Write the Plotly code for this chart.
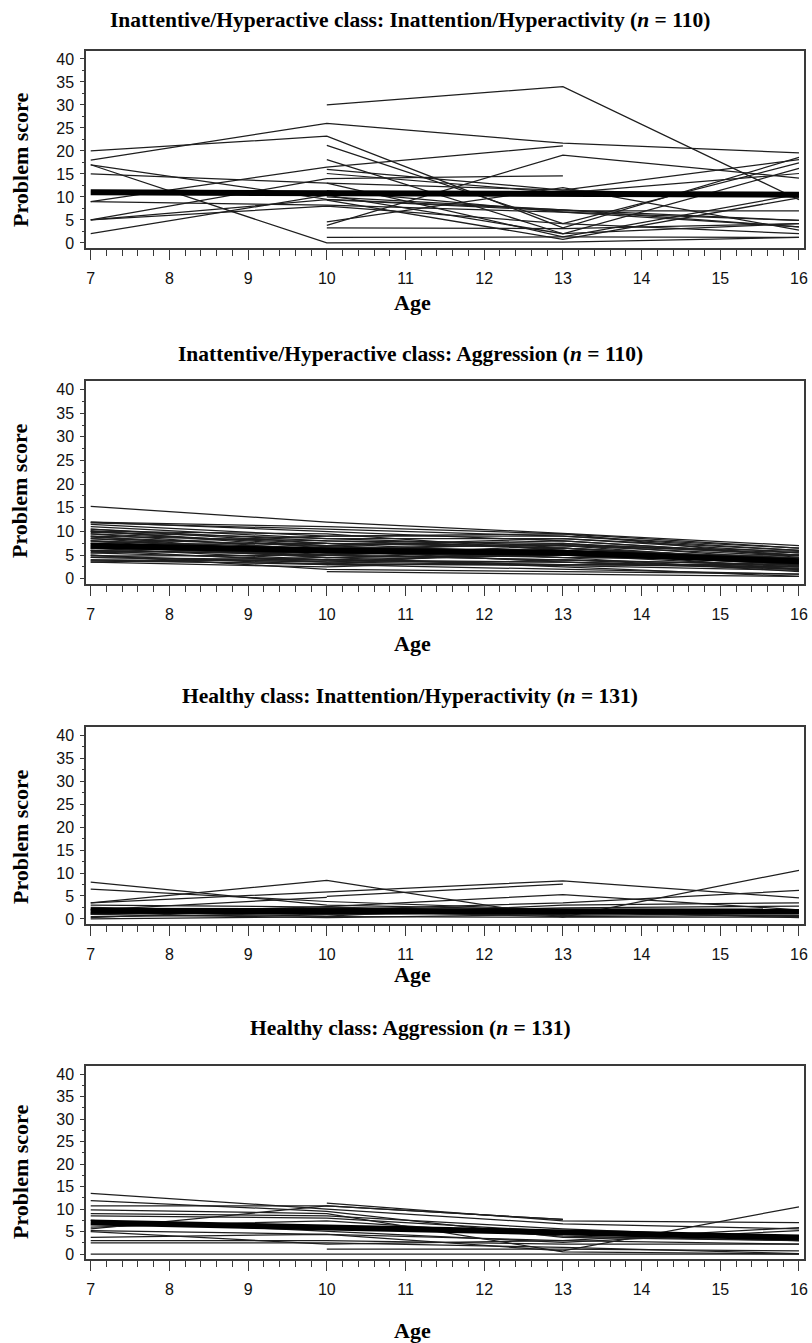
import plotly.graph_objects as go

# ---------------- data ----------------
ages = [7, 10, 13, 16]
x_ticks = [7, 8, 9, 10, 11, 12, 13, 14, 15, 16]
y_ticks = [0, 5, 10, 15, 20, 25, 30, 35, 40]

titles = [
    "Inattentive/Hyperactive class: Inattention/Hyperactivity (<i>n</i> = 110)",
    "Inattentive/Hyperactive class: Aggression (<i>n</i> = 110)",
    "Healthy class: Inattention/Hyperactivity (<i>n</i> = 131)",
    "Healthy class: Aggression (<i>n</i> = 131)",
]

# individual trajectories (scores at ages 7, 10, 13, 16; None = missing)
ih_inatt = [
    [20, 23.2, 3.3, 18.6],
    [18, 26, 21.7, 19.6],
    [None, 30, 34, 9.4],
    [17, 0, 0.2, 1.2],
    [17, 9.5, 7.2, 4.9],
    [15, 13, 11.5, 10],
    [9, 16.5, 21.1, None],
    [9, 8.2, 6.7, 3.5],
    [5, 14, 14.6, None],
    [5, 9.4, 7, 7],
    [5, 8, 4.2, 2],
    [2, 10.4, 2, 16.2],
    [None, 21.2, 4.2, 17.4],
    [None, 18.1, 2, 4.2],
    [None, 15.1, 10.9, 15.1],
    [None, 13, 1.3, 10.6],
    [None, 3.8, 19.1, 14.1],
    [None, 4.6, 12, 2.8],
    [None, 1.2, 1.3, 1.2],
    [None, 3.3, 3.1, 4.2],
    [None, 11.4, 6.7, 4.9],
    [None, 10, 7.2, 3.5],
    [None, 16, 11.5, 18.1],
    [None, 9.3, 0.8, 9.8],
]
ih_inatt_mean = [11, 10.8, 10.8, 10.5]

ih_aggr = [
    [15.3, 12, 9.6, 7],
    [12, 11, 9.5, 6.5],
    [12, 10, 8, 5],
    [11.5, 9, 9.5, 4.5],
    [10.5, 8, 7.5, 4],
    [10, 9.5, 6, 3.5],
    [10, 7, 8, 5],
    [9.5, 6, 5.5, 3],
    [9, 8, 6.5, 4],
    [9, 5, 7, 3.5],
    [8.5, 7, 5, 2.5],
    [8, 6.5, 4.5, 4.5],
    [8, 4.5, 6, 3],
    [7.5, 6, 3.5, 2],
    [6.5, 4, 5, 5],
    [6, 5, 4, 3],
    [6, 3.5, 3, 2.5],
    [5.5, 6.5, 4.5, 1.5],
    [5, 3, 6.5, 3.5],
    [5, 2, 1.5, 1],
    [4.5, 4, 3, 3],
    [4, 3, 2, 1],
    [3.5, 2.5, 4, 2],
    [3.5, 4.5, 2.5, 0.5],
    [None, 1.5, 1, 0.5],
    [None, 3, 3, 3],
    [None, 7, 8.5, 6],
    [7.5, 9, 9, 6.5],
    [11, 8.5, 7, 5.5],
    [10.5, 7.5, 6.5, 4],
    [9.5, 7.5, 5, 4.5],
    [8.5, 5.5, 6, 2],
    [7, 4.5, 5, 3.5],
    [6.5, 5.5, 4.5, 4],
    [5.5, 4, 3.5, 2.5],
    [4.5, 3.5, 5.5, 3],
    [8, 6, 7.5, 5],
    [6, 6.5, 6, 4.5],
    [11.8, 10.5, 9, 6],
    [9.8, 8.5, 8.5, 5.5],
    [7.2, 7.5, 7, 4.8],
    [6.8, 5, 6.5, 4.2],
    [5.8, 5.5, 5, 3.8],
    [4.8, 5, 4, 2.8],
    [4, 3.8, 3.5, 2.2],
    [3.8, 3.2, 2.8, 1.8],
    [8.8, 6.8, 5.8, 3.2],
    [10.2, 6.5, 7.2, 5.8],
]
ih_aggr_mean = [7, 6, 5.5, 3.7]

h_inatt = [
    [3.5, 8.4, 0.4, 10.6],
    [8, 3, 2, 2],
    [6.5, 3.8, 2, 1.5],
    [3.5, 5.9, 8.3, 4.6],
    [None, 4.9, 7.6, None],
    [2, 4.7, None, None],
    [1, 2.7, 5.3, 2],
    [2, 2, 3.5, 6.2],
    [0.5, 1, 1.3, 2],
    [0, 0.5, 0.4, 0.4],
    [1.5, 0.6, 3, 3.5],
    [2.5, 1.5, 0.8, 1.2],
    [0.3, 2.4, 1.5, 0.5],
    [1.2, 1.2, 2.4, 2.8],
    [3, 2.6, 1.6, 0.3],
    [1, 0.3, 1, 1.8],
    [2.2, 1.8, 0.5, 0.8],
]
h_inatt_mean = [1.8, 1.7, 1.6, 1.6]

h_aggr = [
    [13.5, 10, 6.7, 5.6],
    [11.9, 9.5, 3.7, 3],
    [10.7, 10.7, 7.7, None],
    [None, 11.3, 7.4, 7],
    [9.8, 9, 0.5, 0],
    [5.6, 10.7, 7.7, None],
    [8.5, 8, 5, 3],
    [5.2, 4.4, 3, 2.2],
    [3.7, 4.4, 0.7, 10.5],
    [3, 3, 2.2, 2.2],
    [0, 0, 0, 0],
    [None, 1.1, 1.1, 0.7],
    [2.5, 2.5, 1.5, 0.1],
    [5, 2.2, 3, 5.9],
    [9, 8.5, 5.6, 3.5],
    [6, 7.4, 4, 3],
    [7.5, 5, 2.6, 5.2],
]
h_aggr_mean = [7, 5.9, 4.8, 3.7]

panels = [
    (ih_inatt, ih_inatt_mean),
    (ih_aggr, ih_aggr_mean),
    (h_inatt, h_inatt_mean),
    (h_aggr, h_aggr_mean),
]

# ---------------- layout geometry (pixels from top-left) ----------------
W, H = 812, 1343
frames = [(50.7, 248), (381, 584), (727, 924), (1066, 1259)]
title_y = [19, 353, 695, 1027]
age_y = [302, 643, 975, 1330]
ylab_y = [160, 491, 837, 1172]
x_left, x_right = 86, 803.7


def px(x):
    return x / W


def py(y):
    return 1 - y / H


LINE = "#1e1e1e"
AXIS = "#3a3a3a"
SERIF = "Liberation Serif, Times New Roman, serif"
SANS = "Liberation Sans, Arial, sans-serif"

fig = go.Figure()
annotations = []
for i, (traj, mean) in enumerate(panels):
    k = "" if i == 0 else str(i + 1)
    xs, ys = [], []
    for t in traj:
        xs += ages + [None]
        ys += t + [None]
    fig.add_trace(go.Scatter(x=xs, y=ys, mode="lines", xaxis="x" + k, yaxis="y" + k,
                             line=dict(color=LINE, width=1.25), showlegend=False,
                             hoverinfo="skip", connectgaps=False))
    fig.add_trace(go.Scatter(x=ages, y=mean, mode="lines", xaxis="x" + k, yaxis="y" + k,
                             line=dict(color="#000000", width=6), showlegend=False,
                             hoverinfo="skip"))
    top, bot = frames[i]
    fig.layout["xaxis" + k] = dict(
        domain=[px(x_left), px(x_right)], range=[6.94, 16.06], anchor="y" + k,
        tickvals=x_ticks, ticks="outside", ticklen=10, tickwidth=1.3, tickcolor=AXIS,
        minor=dict(dtick=0.2, tick0=0, ticks="outside", ticklen=6, tickwidth=1, tickcolor=AXIS),
        showline=True, linecolor=AXIS, linewidth=1.5, mirror=True,
        showgrid=False, zeroline=False, automargin=False,
        tickfont=dict(family=SANS, size=16, color="#111"),
        ticklabelstandoff=5,
    )
    fig.layout["yaxis" + k] = dict(
        domain=[py(bot), py(top)], range=[-1.1, 41.8], anchor="x" + k,
        tickvals=y_ticks, ticks="outside", ticklen=4, tickwidth=1.2, tickcolor=AXIS,
        minor=dict(dtick=2.5, ticks="outside", ticklen=2, tickwidth=1, tickcolor=AXIS),
        showline=True, linecolor=AXIS, linewidth=1.5, mirror=True,
        showgrid=False, zeroline=False, automargin=False,
        tickfont=dict(family=SANS, size=16, color="#111"),
        ticklabelstandoff=3,
    )
    annotations.append(dict(text="<b>" + titles[i] + "</b>", x=px(410), y=py(title_y[i] + 1),
                            xref="paper", yref="paper", xanchor="center", yanchor="middle",
                            showarrow=False, font=dict(family=SERIF, size=21.5, color="#000")))
    annotations.append(dict(text="<b>Age</b>", x=px(412), y=py(age_y[i]),
                            xref="paper", yref="paper", xanchor="center", yanchor="middle",
                            showarrow=False, font=dict(family=SERIF, size=22, color="#000")))
    annotations.append(dict(text="<b>Problem score</b>", x=px(20), y=py(ylab_y[i]),
                            xref="paper", yref="paper", xanchor="center", yanchor="middle",
                            textangle=-90, showarrow=False,
                            font=dict(family=SERIF, size=22, color="#000")))

fig.update_layout(
    width=W, height=H, margin=dict(l=0, r=0, t=0, b=0),
    template="none", paper_bgcolor="white", plot_bgcolor="white",
    showlegend=False, annotations=annotations,
)
fig.write_html(
    "out.html",
    config={"displayModeBar": False},
    post_script="document.body.style.margin='0px';document.body.style.overflow='hidden';"
                "document.documentElement.style.overflow='hidden';",
)
